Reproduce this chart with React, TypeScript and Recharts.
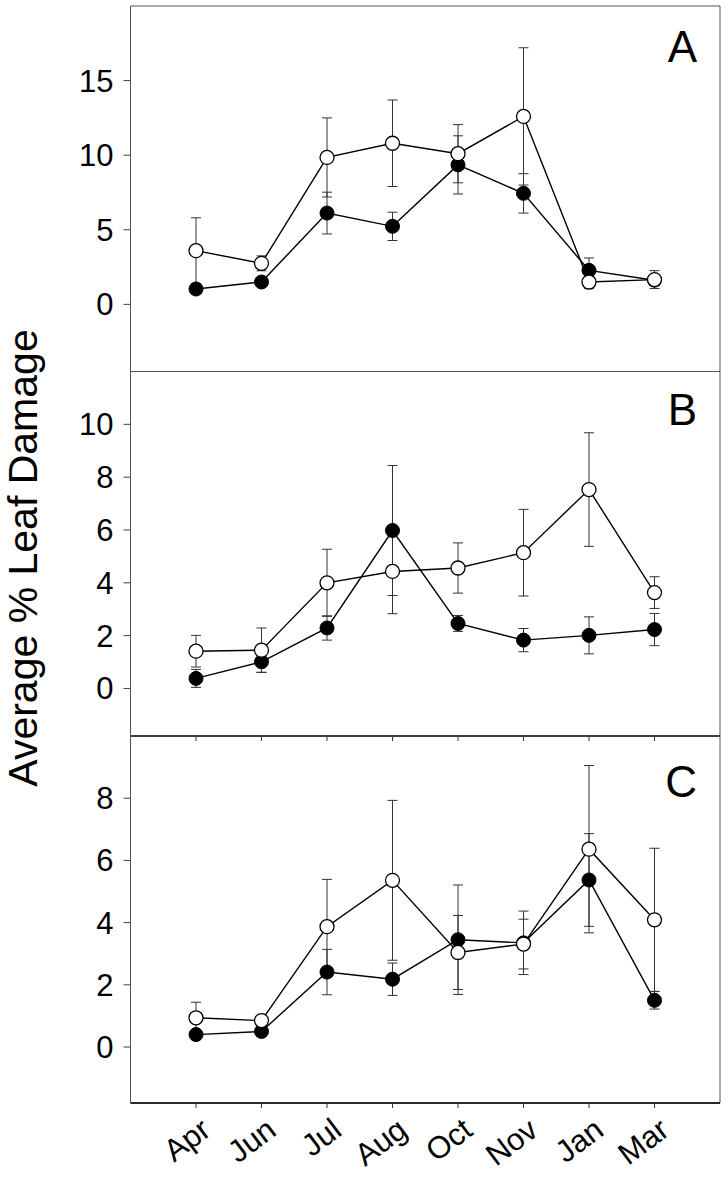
import React from 'react';
import { LineChart, Line, XAxis, YAxis, ErrorBar, ReferenceArea, Label } from 'recharts';

const months = ['Apr', 'Jun', 'Jul', 'Aug', 'Oct', 'Nov', 'Jan', 'Mar'];

// Panel A
const openA = [3.6, 2.75, 9.85, 10.8, 10.1, 12.6, 1.5, 1.66];
const openAErr = [2.2, 0.5, 2.65, 2.9, 1.95, 4.6, 0.45, 0.6];
const filledA = [1.03, 1.5, 6.12, 5.23, 9.35, 7.44, 2.28, 1.62];
const filledAErr = [0.2, 0.3, 1.4, 0.95, 1.95, 1.32, 0.83, 0.35];

// Panel B
const openB = [1.41, 1.45, 4.0, 4.43, 4.56, 5.14, 7.53, 3.63];
const openBErr = [0.6, 0.84, 1.27, 1.6, 0.95, 1.64, 2.15, 0.6];
const filledB = [0.38, 1.01, 2.29, 5.98, 2.46, 1.83, 2.01, 2.23];
const filledBErr = [0.34, 0.4, 0.46, 2.46, 0.3, 0.44, 0.7, 0.61];

// Panel C
const openC = [0.94, 0.85, 3.87, 5.36, 3.04, 3.31, 6.36, 4.09];
const openCErr = [0.5, 0.1, 1.52, 2.57, 1.19, 0.8, 2.69, 2.3];
const filledC = [0.4, 0.5, 2.41, 2.18, 3.45, 3.35, 5.37, 1.5];
const filledCErr = [0.1, 0.1, 0.73, 0.52, 1.76, 1.02, 1.49, 0.28];

const ticksA = [0, 5, 10, 15];
const ticksB = [0, 2, 4, 6, 8, 10];
const ticksC = [0, 2, 4, 6, 8];
const xTicks = [1, 2, 3, 4, 5, 6, 7, 8];

const FONT = '"Liberation Sans", Arial, Helvetica, sans-serif';

function buildRows(open: number[], openErr: number[], filled: number[], filledErr: number[]) {
  return months.map((m, i) => ({
    x: i + 1,
    month: m,
    open: open[i],
    openErr: openErr[i],
    filled: filled[i],
    filledErr: filledErr[i],
  }));
}

const rowsA = buildRows(openA, openAErr, filledA, filledAErr);
const rowsB = buildRows(openB, openBErr, filledB, filledBErr);
const rowsC = buildRows(openC, openCErr, filledC, filledCErr);

const MonthTick = (props: any) => {
  const { x, y, payload } = props;
  const label = months[payload.value - 1];
  return (
    <g transform={`translate(${x + 3},${y + 6}) rotate(-37)`}>
      <text textAnchor="end" dy="0.72em" fontSize={31} fontFamily={FONT} fill="#000">
        {label}
      </text>
    </g>
  );
};

const EmptyTick = () => <g />;

type PanelProps = {
  rows: any[];
  domain: [number, number];
  ticks: number[];
  top: number;
  height: number;
  xMode: 'none' | 'ticks' | 'labels';
  letter: string;
  letterY: number;
  yLabel?: boolean;
};

function Panel({ rows, domain, ticks, top, height, xMode, letter, letterY, yLabel }: PanelProps) {
  const xHeight = xMode === 'labels' ? 75 : xMode === 'ticks' ? 30 : 0;
  return (
    <div style={{ position: 'absolute', left: 0, top: 0 }}>
      <LineChart
        width={728}
        height={height}
        data={rows}
        margin={{ top, right: 8, bottom: 0, left: 0 }}
      >
        <XAxis
          dataKey="x"
          type="number"
          domain={[0, 9]}
          ticks={xTicks}
          hide={xMode === 'none'}
          height={xHeight}
          axisLine={{ stroke: '#000', strokeWidth: 1.6 }}
          tickLine={{ stroke: '#333', strokeWidth: 1 }}
          tickSize={5}
          tickMargin={2}
          tick={xMode === 'labels' ? <MonthTick /> : <EmptyTick />}
          interval={0}
        />
        <YAxis
          type="number"
          domain={domain}
          ticks={ticks}
          allowDataOverflow
          width={130.5}
          axisLine={{ stroke: '#555', strokeWidth: 1 }}
          tickLine={{ stroke: '#444', strokeWidth: 1 }}
          tickSize={7}
          tickMargin={10}
          tick={{ fill: '#000', fontSize: 31, fontFamily: FONT }}
          interval={0}
        >
          {yLabel ? (
            <Label
              content={() => (
                <text
                  x={37}
                  y={558}
                  transform="rotate(-90, 37, 558)"
                  textAnchor="middle"
                  fontSize={41}
                  fontFamily={FONT}
                  fill="#000"
                >
                  Average % Leaf Damage
                </text>
              )}
            />
          ) : null}
        </YAxis>
        <ReferenceArea
          x1={0}
          x2={9}
          y1={domain[0]}
          y2={domain[1]}
          fill="none"
          stroke="#555"
          strokeWidth={1}
          ifOverflow="extendDomain"
        />
        <Line
          dataKey="filled"
          stroke="#000"
          strokeWidth={1.4}
          isAnimationActive={false}
          dot={{ r: 7, fill: '#000', stroke: '#000', strokeWidth: 1 }}
          activeDot={false}
        >
          <ErrorBar dataKey="filledErr" direction="y" width={5} stroke="#333" strokeWidth={1} />
        </Line>
        <Line
          dataKey="open"
          stroke="#000"
          strokeWidth={1.4}
          isAnimationActive={false}
          dot={{ r: 7, fill: '#fff', stroke: '#000', strokeWidth: 1.3 }}
          activeDot={false}
        >
          <ErrorBar dataKey="openErr" direction="y" width={5} stroke="#333" strokeWidth={1} />
        </Line>
        <text x={697} y={letterY} textAnchor="end" fontSize={44} fontFamily={FONT} fill="#000">
          {letter}
        </text>
      </LineChart>
    </div>
  );
}

export default function App() {
  return (
    <div style={{ position: 'absolute', left: 0, top: 0, width: 728, height: 1178, background: '#fff' }}>
      <Panel rows={rowsA} domain={[-4.5, 20]} ticks={ticksA} top={6} height={371.5} xMode="none" letter="A" letterY={62} />
      <Panel rows={rowsB} domain={[-1.8, 12]} ticks={ticksB} top={371.5} height={766} xMode="ticks" letter="B" letterY={425} />
      <Panel rows={rowsC} domain={[-1.8, 10]} ticks={ticksC} top={736} height={1178} xMode="labels" letter="C" letterY={797} yLabel />
    </div>
  );
}
